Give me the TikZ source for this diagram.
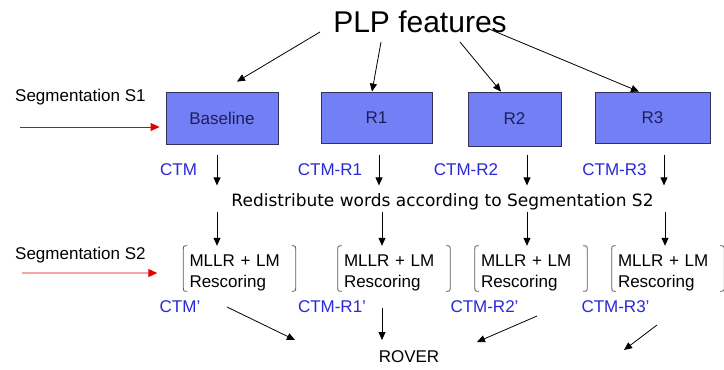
\documentclass[tikz,border=0pt]{standalone}
\usepackage{fontspec}
\setmainfont{Liberation Sans}
\newfontfamily\dvfont{DejaVu Sans}
\usetikzlibrary{arrows.meta,calc}
\definecolor{boxfill}{RGB}{115,128,245}
\definecolor{boxline}{RGB}{50,50,90}
\definecolor{boxtext}{RGB}{30,30,90}
\definecolor{ctmblue}{RGB}{40,40,215}
\definecolor{segred}{RGB}{230,0,0}
\definecolor{brkgray}{RGB}{90,90,90}
\tikzset{
  txt/.style={inner sep=0pt,font=\fontsize{17bp}{21bp}\selectfont},
  sysbox/.style={draw=boxline,fill=boxfill,line width=0.8bp,text=boxtext,font=\fontsize{17bp}{21bp}\selectfont,inner sep=0pt},
  ctm/.style={txt,text=ctmblue},
  arr/.style={draw=black,line width=0.8bp,-{Triangle[length=8bp,width=7bp]}},
  redarr/.style={draw=segred,line width=0.9bp,-{Triangle[length=9bp,width=8bp]}},
  mllr/.style={txt,align=left,minimum height=43bp,text width=100bp,inner xsep=6bp,text height=20.5bp,anchor=center},
  brk/.style={draw=brkgray,line width=0.8bp},
}
\begin{document}
\begin{tikzpicture}[x=1bp,y=-1bp]
\useasboundingbox (0,0) rectangle (724,369);
% title
\node[txt,font=\fontsize{30bp}{34bp}\selectfont] (plp) at (420,22) {PLP features};
% boxes
\node[sysbox,minimum width=112bp,minimum height=52bp] (b0) at (222,118) {Baseline};
\node[sysbox,minimum width=111bp,minimum height=51bp] (b1) at (376.5,117.5) {R1};
\node[sysbox,minimum width=93bp,minimum height=54bp] (b2) at (514.5,119) {R2};
\node[sysbox,minimum width=115bp,minimum height=51bp] (b3) at (652.5,117.5) {R3};
% arrows from PLP
\coordinate (p0) at (320,32);
\coordinate (p1) at (381,42);
\coordinate (p2) at (460,42);
\coordinate (p3) at (489,29);
\draw[arr] (p0) -- ($(b0.north)+(15,-10)$);
\draw[arr] (p1) -- ($(b1.north)+(-4.5,0)$);
\draw[arr] (p2) -- ($(b2.north)+(-13.5,0)$);
\draw[arr] (p3) -- ($(b3.north)+(-13.5,0)$);
% segmentation labels
\node[txt,anchor=west] (s1) at (15,97) {Segmentation S1};
\node[txt,anchor=west] (s2) at (15,255) {Segmentation S2};
\coordinate (r1) at (20,127);
\coordinate (r2) at (22,273);
\draw[redarr] (r1) -- ($(b0.west)+(-6,9)$);
% CTM labels
\node[ctm] (c0) at (178.5,170) {CTM};
\node[ctm] (c1) at (330,170) {CTM-R1};
\node[ctm] (c2) at (466,170) {CTM-R2};
\node[ctm] (c3) at (614.5,170) {CTM-R3};
% redistribute
\node[txt,font=\dvfont\fontsize{17bp}{21bp}\selectfont] (red) at (442.5,202) {Redistribute words according to Segmentation S2};
% first down arrows
\draw[arr] ($(b0.south)+(-5,11)$) -- ($(b0.south)+(-5,41)$);
\draw[arr] ($(b1.south)+(2.5,12)$) -- ($(b1.south)+(2.5,42)$);
\draw[arr] ($(b2.south)+(12.5,9)$) -- ($(b2.south)+(12.5,39)$);
\draw[arr] ($(b3.south)+(11.5,12)$) -- ($(b3.south)+(11.5,42)$);
% MLLR nodes
\node[mllr,minimum width=111bp] (m0) at (239.5,268.5) {MLLR + LM\\Rescoring};
\node[mllr,minimum width=112bp] (m1) at (394,268.5) {MLLR + LM\\Rescoring};
\node[mllr,minimum width=112bp] (m2) at (531,268.5) {MLLR + LM\\Rescoring};
\node[mllr,minimum width=108bp] (m3) at (668,268.5) {MLLR + LM\\Rescoring};
\foreach \m in {m0,m1,m2,m3}{
  \draw[brk] ($(\m.north west)+(4,0)$) .. controls (\m.north west) .. ($(\m.north west)+(0,5)$)
     -- ($(\m.south west)+(0,-5)$) .. controls (\m.south west) .. ($(\m.south west)+(4,0)$);
  \draw[brk] ($(\m.north east)+(-4,0)$) .. controls (\m.north east) .. ($(\m.north east)+(0,5)$)
     -- ($(\m.south east)+(0,-5)$) .. controls (\m.south east) .. ($(\m.south east)+(-4,0)$);
}
\draw[redarr] (r2) -- ($(m0.west)+(-26,4.5)$);
% second down arrows
\draw[arr] ($(m0.north)+(-22.5,-34)$) -- ($(m0.north)+(-22.5,0)$);
\draw[arr] ($(m1.north)+(-12,-34)$) -- ($(m1.north)+(-12,0)$);
\draw[arr] ($(m2.north)+(-4,-34)$) -- ($(m2.north)+(-4,0)$);
\draw[arr] ($(m3.north)+(-3,-34)$) -- ($(m3.north)+(-3,0)$);
% CTM' labels
\node[ctm] (d0) at (180,307) {CTM'};
\node[ctm] (d1) at (332,307) {CTM-R1'};
\node[ctm] (d2) at (484.5,307) {CTM-R2'};
\node[ctm] (d3) at (615.5,307) {CTM-R3'};
% ROVER
\node[txt] (rover) at (409,357) {ROVER};
\coordinate (q0) at (227,307);
\coordinate (q1) at (382,308);
\coordinate (q2) at (537,316);
\coordinate (q3) at (657,325);
\draw[arr] (q0) -- ($(rover.center)+(-114,-17)$);
\draw[arr] (q1) -- ($(rover.center)+(-27,-17)$);
\draw[arr] (q2) -- ($(rover.center)+(68,-15)$);
\draw[arr] (q3) -- ($(rover.center)+(215,-7)$);
\end{tikzpicture}
\end{document}
